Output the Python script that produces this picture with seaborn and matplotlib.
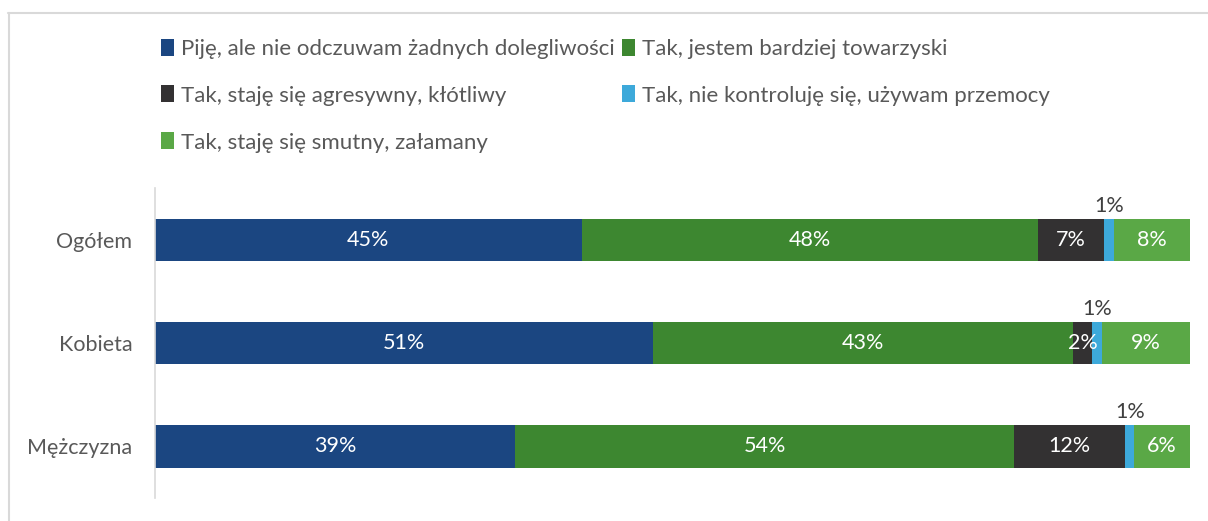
import pandas as pd
import numpy as np
import matplotlib.pyplot as plt
import seaborn as sns
from matplotlib.lines import Line2D
from matplotlib.patches import Patch

# Data (percent values as printed on the chart)
categories = ["Ogółem", "Kobieta", "Mężczyzna"]
series_names = [
    "Piję, ale nie odczuwam żadnych dolegliwości",
    "Tak, jestem bardziej towarzyski",
    "Tak, staję się agresywny, kłótliwy",
    "Tak, nie kontroluję się, używam przemocy",
    "Tak, staję się smutny, załamany",
]
drink_ok = [45, 51, 39]
sociable = [48, 43, 54]
aggressive = [7, 2, 12]
violent = [1, 1, 1]
sad = [8, 9, 6]
colors = ["#1B4681", "#3D8730", "#333132", "#3DA9DA", "#5AA846"]

series = [drink_ok, sociable, aggressive, violent, sad]
df = pd.DataFrame(dict(zip(series_names, series)), index=categories)
share = df.div(df.sum(axis=1), axis=0)
cum = share.cumsum(axis=1)

sns.set_style("white")
plt.rcParams["font.family"] = ["Lato", "DejaVu Sans"]
fs = 15.5

fig = plt.figure(figsize=(12.08, 5.21), dpi=100)
ax = fig.add_axes([0.128, 0.044, 0.857, 0.595])

# stacked bars: draw cumulative totals from the last series to the first
for name, col in reversed(list(zip(series_names, colors))):
    sns.barplot(x=cum[name].values, y=categories, color=col, orient="h",
                width=0.41, ax=ax, edgecolor="none", linewidth=0, saturation=1)

ax.set_xlim(0, 1)
ax.set_ylim(2.5, -0.5)
ax.set_xticks([])
ax.set_xlabel("")
ax.set_ylabel("")
for s in ["top", "right", "bottom"]:
    ax.spines[s].set_visible(False)
ax.spines["left"].set_color("#D9D9D9")
ax.spines["left"].set_linewidth(1.2)
ax.tick_params(axis="y", length=0, pad=16, labelsize=fs, labelcolor="#595959")

# value labels
for i, cat in enumerate(categories):
    left = 0.0
    for name in series_names:
        w = share.loc[cat, name]
        v = df.loc[cat, name]
        xc = left + w / 2
        if v <= 1:
            ax.text(xc, i - 0.33, f"{v}%", ha="center", va="center",
                    fontsize=fs, color="#404040")
        else:
            ax.text(xc, i, f"{v}%", ha="center", va="center",
                    fontsize=fs, color="white")
        left += w

# legend in rows like the original (column-major fill)
handles = [Patch(facecolor=c, edgecolor="none") for c in colors]
order = [0, 2, 4, 1, 3]
fig.legend([handles[k] for k in order], [series_names[k] for k in order],
           ncol=2, loc="upper left", bbox_to_anchor=(0.126, 0.943),
           frameon=False, fontsize=16, labelcolor="#595959",
           handlelength=0.6, handleheight=0.8, handletextpad=0.3,
           columnspacing=0.3, labelspacing=1.2, borderaxespad=0)

# chart border (top and left edges)
fig.add_artist(Line2D([8 / 1208, 1], [1 - 12.5 / 521] * 2, transform=fig.transFigure,
                      color="#D9D9D9", linewidth=1.5))
fig.add_artist(Line2D([9 / 1208] * 2, [0, 1 - 12.5 / 521], transform=fig.transFigure,
                      color="#D9D9D9", linewidth=1.5))

plt.savefig("out.png", dpi=100)
